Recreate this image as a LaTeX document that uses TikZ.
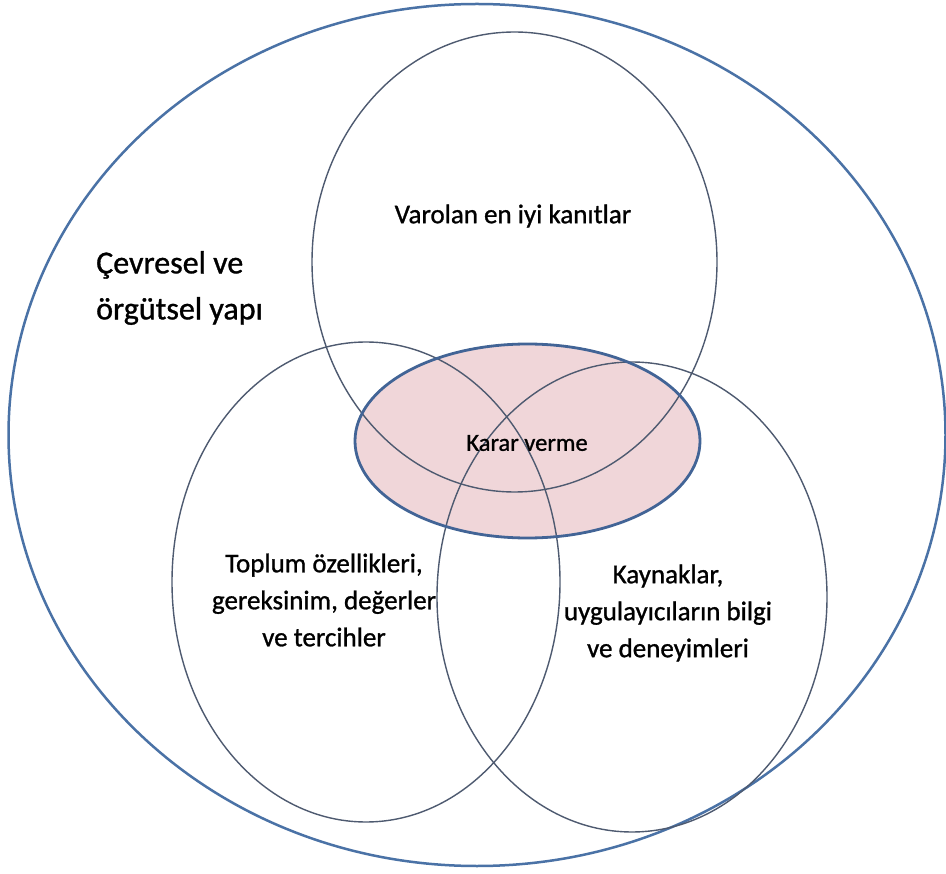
\documentclass[tikz,border=0pt]{standalone}
\usepackage{fontspec}
\setmainfont{Carlito}[FakeBold=1]
\newfontfamily\labelfont{Carlito}[FakeBold=1]
\definecolor{outerblue}{RGB}{74,114,166}
\definecolor{ringgray}{RGB}{78,90,112}
\definecolor{corefill}{RGB}{240,214,217}
\definecolor{coreedge}{RGB}{66,100,150}
\begin{document}
\begin{tikzpicture}[x=1pt,y=-1pt,
  ring/.style={draw=ringgray,line width=1.4pt},
  label/.style={align=center,inner sep=0pt,font=\labelfont\fontsize{27}{37}\selectfont},
]
\useasboundingbox (0,0) rectangle (946,874);
\fill[white] (0,0) rectangle (946,874);

% environment
\draw[outerblue,line width=2.5pt] (477,435) ellipse [x radius=468.5,y radius=431];

% decision core, fill first so the rings show through
\fill[corefill] (527.5,441) ellipse [x radius=172.5,y radius=97];

% the three overlapping rings
\draw[ring] (514.5,262) ellipse [x radius=202.5,y radius=230];
\draw[ring] (366,582) ellipse [x radius=194,y radius=240];
\draw[ring] (632,597) ellipse [x radius=195,y radius=235];

\draw[coreedge,line width=2.8pt] (527.5,441) ellipse [x radius=172.5,y radius=97];

\node[label] (evid) at (513,216) {Varolan en iyi kanıtlar};
\node[label] (comm) at (324,600) {Toplum özellikleri,\\gereksinim, değerler\\ve tercihler};
\node[label] (res) at (668,613) {Kaynaklar,\\uygulayıcıların bilgi\\ve deneyimleri};
\node[inner sep=0pt,font=\labelfont\fontsize{24.5}{30}\selectfont] (core) at (527,443) {Karar verme};
\node[anchor=west,align=left,inner sep=0pt,font=\labelfont\fontsize{32}{46}\selectfont] (env) at (96,288) {Çevresel ve\\örgütsel yapı};
\end{tikzpicture}
\end{document}
